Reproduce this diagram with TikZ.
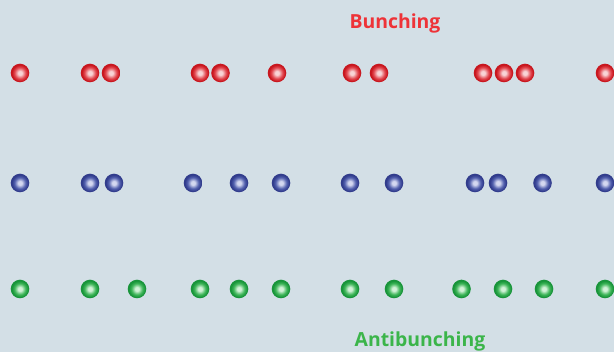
\documentclass[tikz,border=0pt]{standalone}
\usepackage{fontspec}
\setmainfont{Open Sans}
\definecolor{bgc}{HTML}{D3DFE6}
\definecolor{rtext}{HTML}{EE3338}
\definecolor{gtext}{HTML}{3BB54A}
\definecolor{redE}{HTML}{C8161E}
\definecolor{redM}{HTML}{E24850}
\definecolor{redC}{HTML}{F8D4D6}
\definecolor{bluE}{HTML}{313C8C}
\definecolor{bluM}{HTML}{5260AE}
\definecolor{bluC}{HTML}{D4D8F0}
\definecolor{grnE}{HTML}{18943A}
\definecolor{grnM}{HTML}{3DB558}
\definecolor{grnC}{HTML}{D2F2D8}
\pgfdeclareradialshading{redball}{\pgfpoint{0bp}{0bp}}{color(0bp)=(redC); color(5bp)=(redC); color(15bp)=(redM); color(22bp)=(redE); color(25bp)=(redE); color(50bp)=(redE)}
\pgfdeclareradialshading{blueball}{\pgfpoint{0bp}{0bp}}{color(0bp)=(bluC); color(5bp)=(bluC); color(15bp)=(bluM); color(22bp)=(bluE); color(25bp)=(bluE); color(50bp)=(bluE)}
\pgfdeclareradialshading{greenball}{\pgfpoint{0bp}{0bp}}{color(0bp)=(grnC); color(5bp)=(grnC); color(15bp)=(grnM); color(22bp)=(grnE); color(25bp)=(grnE); color(50bp)=(grnE)}
\tikzset{
  rb/.style={circle, minimum size=18.6pt, inner sep=0pt, shading=redball},
  bb/.style={circle, minimum size=18.6pt, inner sep=0pt, shading=blueball},
  gb/.style={circle, minimum size=18.6pt, inner sep=0pt, shading=greenball},
  lbl/.style={anchor=base, font=\bfseries\fontsize{19.4}{22}\selectfont, inner sep=0pt}
}
\begin{document}
\begin{tikzpicture}[x=1pt,y=-1pt]
\path[fill=bgc] (0,0) rectangle (614,352);
\useasboundingbox (0,0) rectangle (614,352);
\node[lbl, text=rtext] (bunch) at (395,29) {Bunching};
\node[lbl, text=gtext] (anti) at (420,347) {Antibunching};
\foreach \x [count=\i] in {20,90,111,200,220.5,277,352,379,483,504,525,605}
  \node[rb] (r\i) at (\x,73) {};
\foreach \x [count=\i] in {20,90,114,193,239,281,350,394,475,498,542.5,605}
  \node[bb] (b\i) at (\x,183) {};
\foreach \x [count=\i] in {20,90,137,200,239,281,350,394,461.5,503,544,605}
  \node[gb] (g\i) at (\x,289) {};
\end{tikzpicture}
\end{document}
